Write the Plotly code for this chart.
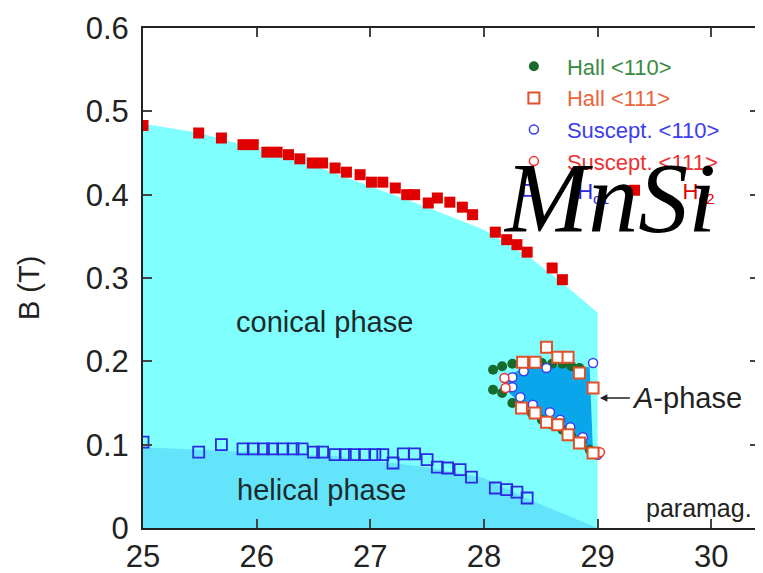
import plotly.graph_objects as go

# ---------------- data ----------------
# upper critical field Hc2 (red filled squares)
hc2_T = [25.0, 25.49, 25.69, 25.88, 25.97, 26.09, 26.18, 26.28, 26.38, 26.49, 26.58, 26.69, 26.79,
         26.91, 27.01, 27.11, 27.22, 27.32, 27.39, 27.51, 27.59, 27.70, 27.81, 27.90, 28.10, 28.20,
         28.29, 28.38, 28.60, 28.69]
hc2_B = [0.483, 0.474, 0.468, 0.460, 0.460, 0.451, 0.451, 0.448, 0.443, 0.438, 0.438, 0.432, 0.427,
         0.424, 0.415, 0.415, 0.408, 0.400, 0.400, 0.390, 0.396, 0.391, 0.385, 0.376, 0.355, 0.346,
         0.340, 0.331, 0.312, 0.298]

# lower critical field Hc1 (blue open squares)
hc1_T = [25.0, 25.49, 25.69, 25.88, 25.97, 26.06, 26.14, 26.23, 26.32, 26.40, 26.50, 26.58, 26.69,
         26.78, 26.86, 26.95, 27.04, 27.11, 27.20, 27.29, 27.39, 27.50, 27.59, 27.68, 27.79, 27.89,
         28.10, 28.20, 28.29, 28.38]
hc1_B = [0.103, 0.091, 0.100, 0.095, 0.095, 0.095, 0.095, 0.095, 0.095, 0.095, 0.091, 0.091, 0.088,
         0.088, 0.088, 0.088, 0.088, 0.088, 0.078, 0.089, 0.089, 0.082, 0.073, 0.072, 0.070, 0.061,
         0.048, 0.046, 0.043, 0.036]

# Hall <110> (green filled circles)
hall110_T = [28.08, 28.16, 28.25, 28.33, 28.42, 28.51, 28.60, 28.69, 28.77, 28.84,
             28.08, 28.16, 28.25, 28.33, 28.42, 28.51, 28.60, 28.69, 28.77, 28.86, 28.93]
hall110_B = [0.190, 0.194, 0.197, 0.197, 0.197, 0.198, 0.197, 0.197, 0.194, 0.192,
             0.166, 0.162, 0.150, 0.144, 0.138, 0.130, 0.124, 0.118, 0.110, 0.103, 0.094]

# Hall <111> (orange open squares)
hall111_T = [28.55, 28.34, 28.45, 28.65, 28.74, 28.84, 28.96, 28.33, 28.45, 28.55, 28.65, 28.74, 28.84, 28.96]
hall111_B = [0.217, 0.199, 0.199, 0.205, 0.205, 0.186, 0.168, 0.144, 0.138, 0.127, 0.124, 0.112, 0.102, 0.090]

# Suscept. <110> (blue open circles)
sus110_T = [28.96, 28.25, 28.25, 28.32, 28.43, 28.58, 28.67, 28.76, 28.87, 29.00, 28.35, 28.55]
sus110_B = [0.198, 0.181, 0.169, 0.157, 0.148, 0.139, 0.130, 0.121, 0.109, 0.088, 0.188, 0.192]

# Suscept. <111> (red open circles)
sus111_T = [28.18, 28.19, 29.02]
sus111_B = [0.180, 0.168, 0.091]

# phase regions (boundaries)
conical_T = [25.0, 25.5, 26.0, 26.5, 27.0, 27.5, 28.0, 28.4, 28.7, 28.97, 29.0, 29.0, 25.0]
conical_B = [0.485, 0.474, 0.455, 0.435, 0.410, 0.385, 0.358, 0.325, 0.293, 0.262, 0.258, 0.0, 0.0]

helical_T = [25.0, 26.0, 26.7, 27.5, 28.0, 28.4, 29.0, 25.0]
helical_B = [0.097, 0.091, 0.086, 0.073, 0.060, 0.034, 0.0, 0.0]

aphase_T = [28.20, 28.40, 28.93, 28.96, 28.60, 28.30, 28.20]
aphase_B = [0.182, 0.196, 0.193, 0.088, 0.125, 0.152, 0.165]

x_ticks = [25, 26, 27, 28, 29, 30]
y_ticks = [0, 0.1, 0.2, 0.3, 0.4, 0.5, 0.6]

# ---------------- figure ----------------
fig = go.Figure()

fig.add_trace(go.Scatter(x=conical_T, y=conical_B, fill="toself", fillcolor="#80ffff",
                         mode="none", showlegend=False, hoverinfo="skip"))
fig.add_trace(go.Scatter(x=helical_T, y=helical_B, fill="toself", fillcolor="#64e4fa",
                         mode="none", showlegend=False, hoverinfo="skip"))
fig.add_trace(go.Scatter(x=aphase_T, y=aphase_B, fill="toself", fillcolor="#0aa6ec",
                         mode="none", showlegend=False, hoverinfo="skip"))

fig.add_trace(go.Scatter(x=hc2_T, y=hc2_B, mode="markers", name='<span style="color:#e00000">H<sub>c2</sub></span>',
                         marker=dict(symbol="square", size=11, color="#e00000"),
                         legend="legend3"))
fig.add_trace(go.Scatter(x=hc1_T, y=hc1_B, mode="markers", name='<span style="color:#2a2ae0">H<sub>c1</sub></span>',
                         marker=dict(symbol="square-open", size=11, color="#2a2ae0", line=dict(width=1.8)),
                         legend="legend2"))
fig.add_trace(go.Scatter(x=hall110_T, y=hall110_B, mode="markers", name='<span style="color:#3a8a44">Hall &lt;110&gt;</span>',
                         marker=dict(symbol="circle", size=10, color="#156b2b"), legendrank=1))
fig.add_trace(go.Scatter(x=sus110_T, y=sus110_B, mode="markers", name='<span style="color:#3c3cf0">Suscept. &lt;110&gt;</span>',
                         marker=dict(symbol="circle", size=9, color="white", line=dict(color="#3c3cf0", width=1.5)),
                         legendrank=3))
fig.add_trace(go.Scatter(x=sus111_T, y=sus111_B, mode="markers", name='<span style="color:#ee3030">Suscept. &lt;111&gt;</span>',
                         marker=dict(symbol="circle", size=9, color="white", line=dict(color="#ee3030", width=1.5)),
                         legendrank=4))
fig.add_trace(go.Scatter(x=hall111_T, y=hall111_B, mode="markers", name='<span style="color:#e8643a">Hall &lt;111&gt;</span>',
                         marker=dict(symbol="square", size=11, color="white", line=dict(color="#e0502a", width=2)),
                         legendrank=2))

font_main = "Liberation Sans, Arial, sans-serif"

fig.update_layout(
    width=763, height=573,
    margin=dict(l=135, r=12, t=20, b=53, autoexpand=False),
    paper_bgcolor="white", plot_bgcolor="white",
    font=dict(family=font_main, color="#222222"),
    xaxis=dict(range=[25, 30.42], tickvals=x_ticks, ticks="inside", ticklen=9, tickwidth=1.5,
               showline=True, linecolor="#222222", linewidth=2, mirror="ticks", showgrid=False,
               zeroline=False, automargin=False, tickfont=dict(size=31, color="#222222")),
    yaxis=dict(range=[0, 0.6], tickvals=y_ticks, ticks="inside", ticklen=9, tickwidth=1.5,
               showline=True, linecolor="#222222", linewidth=2, mirror="ticks", showgrid=False,
               zeroline=False, automargin=False, ticklabelstandoff=6,
               tickfont=dict(size=31, color="#222222")),
    legend=dict(x=0.581, y=0.965, xanchor="left", yanchor="top", bgcolor="rgba(0,0,0,0)",
                font=dict(size=22, family=font_main), traceorder="normal", itemsizing="trace",
                tracegroupgap=0, itemwidth=56),
    legend2=dict(x=0.549, y=0.675, xanchor="left", yanchor="middle",
                 bgcolor="rgba(0,0,0,0)", font=dict(size=22, family=font_main), itemwidth=86),
    legend3=dict(x=0.72, y=0.675, xanchor="left", yanchor="middle",
                 bgcolor="rgba(0,0,0,0)", font=dict(size=22, family=font_main), itemwidth=86),
)

fig.add_annotation(text="B (T)", x=-0.185, y=0.48, xref="paper", yref="paper", showarrow=False,
                   xanchor="center", yanchor="middle",
                   textangle=-90, font=dict(size=29, family=font_main, color="#222222"))
fig.add_annotation(text="conical phase", x=26.6, y=0.247, xref="x", yref="y", showarrow=False,
                   font=dict(size=29, family=font_main, color="#1a2a2a"))
fig.add_annotation(text="helical phase", x=26.57, y=0.046, xref="x", yref="y", showarrow=False,
                   font=dict(size=29, family=font_main, color="#1a2a2a"))
fig.add_annotation(text="paramag.", x=30.38, y=0.005, xref="x", yref="y", showarrow=False,
                   xanchor="right", yanchor="bottom",
                   font=dict(size=25, family=font_main, color="#222222"))
fig.add_annotation(text="<i>A</i>-phase", x=29.02, y=0.156, xref="x", yref="y",
                   showarrow=True, ax=30, ay=0, xanchor="left", arrowhead=2, arrowsize=1,
                   arrowwidth=1.5, arrowcolor="#222222",
                   font=dict(size=29, family=font_main, color="#222222"))
fig.add_annotation(text="<i>MnSi</i>", x=0.758, y=0.66, xref="paper", yref="paper", showarrow=False,
                   xanchor="center", yanchor="middle",
                   font=dict(size=100, family="Liberation Serif, Times New Roman, serif", color="black"))

fig.write_html("out.html")
